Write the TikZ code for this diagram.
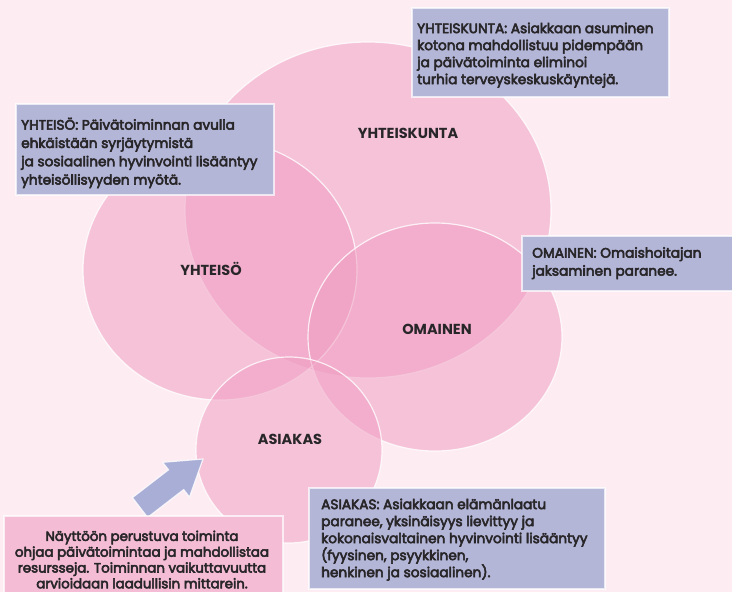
\documentclass[tikz,border=0pt]{standalone}
\usepackage{fontspec}
\setmainfont{Poppins}
\newfontfamily\bodyfont{Poppins}[FakeBold=4]
\usetikzlibrary{shapes.geometric}
\definecolor{bg}{RGB}{253,237,243}
\definecolor{petal}{RGB}{240,158,194}
\definecolor{lav}{RGB}{180,182,216}
\definecolor{pinkbox}{RGB}{244,189,213}
\definecolor{arrowc}{RGB}{169,174,214}
\definecolor{ink}{RGB}{40,38,40}
\begin{document}
\begin{tikzpicture}[x=1pt,y=-1pt,
  circ/.style={ellipse, inner sep=0pt, fill=petal, fill opacity=0.54, draw=white, draw opacity=0.8, line width=1.2pt},
  lbl/.style={font=\bfseries\fontsize{14.5}{16}\selectfont, text=ink, inner sep=0pt},
  infobox/.style={rectangle, fill=lav, draw=white, draw opacity=0.7, line width=1.5pt, inner sep=0pt, anchor=north west},
  infotext/.style={align=left, anchor=north west, inner sep=0pt, text=ink, font=\bodyfont\fontsize{13.7}{17}\selectfont},
  arrowbody/.style={fill=arrowc, draw=white, draw opacity=0.8, line width=1.2pt, line join=miter}
]
\useasboundingbox (0,0) rectangle (732,592);
\fill[bg] (0,0) rectangle (732,592);
% circles
\node[circ, minimum width=366pt, minimum height=336pt] (yk) at (368,210) {};
\node[circ, minimum width=274pt, minimum height=260pt] (ys) at (220,270) {};
\node[circ, minimum width=254pt, minimum height=228pt] (om) at (435,337) {};
\node[circ, minimum width=186pt, minimum height=186pt] (as) at (289,450) {};
% labels
\node[lbl] (lyk) at (408,133) {YHTEISKUNTA};
\node[lbl] (lys) at (211,269) {YHTEISÖ};
\node[lbl] (lom) at (437,329) {OMAINEN};
\node[lbl] (las) at (290,439) {ASIAKAS};
% arrow
\draw[arrowbody] (203,459) -- (162.7,462.3) -- (168.5,469.8) -- (132.4,497.6) -- (147.6,517.4) -- (183.7,489.6) -- (189.5,497.1) -- cycle;
% boxes
\node[infobox, minimum width=257pt, minimum height=89pt] (b1) at (411,7) {};
\node[infotext] (t1) at (417,22.5) {YHTEISKUNTA: Asiakkaan asuminen\\kotona mahdollistuu pidempään\\ja päivätoiminta eliminoi\\turhia terveyskeskuskäyntejä.};
\node[infobox, minimum width=258pt, minimum height=91pt] (b2) at (15,103) {};
\node[infotext, font=\bodyfont\fontsize{13.7}{18.3}\selectfont] (t2) at (21,117.5) {YHTEISÖ: Päivätoiminnan avulla\\ehkäistään syrjäytymistä\\ja sosiaalinen hyvinvointi lisääntyy\\yhteisöllisyyden myötä.};
\node[infobox, minimum width=215pt, minimum height=55pt] (b3) at (521,235) {};
\node[infotext, font=\bodyfont\fontsize{13.7}{18}\selectfont] (t3) at (532,247) {OMAINEN: Omaishoitajan\\jaksaminen paranee.};
\node[infobox, minimum width=296pt, minimum height=101pt] (b4) at (308,487) {};
\node[infotext] (t4) at (321,498.5) {ASIAKAS: Asiakkaan elämänlaatu\\paranee, yksinäisyys lievittyy ja\\kokonaisvaltainen hyvinvointi lisääntyy\\(fyysinen, psyykkinen,\\henkinen ja sosiaalinen).};
\node[infobox, fill=pinkbox, minimum width=279pt, minimum height=85pt] (b5) at (3,515) {};
\node[infotext, align=center, anchor=north, font=\bodyfont\fontsize{13.4}{15.8}\selectfont] (t5) at (142,530.5) {Näyttöön perustuva toiminta\\ohjaa päivätoimintaa ja mahdollistaa\\resursseja. Toiminnan vaikuttavuutta\\arvioidaan laadullisin mittarein.};
\end{tikzpicture}
\end{document}
